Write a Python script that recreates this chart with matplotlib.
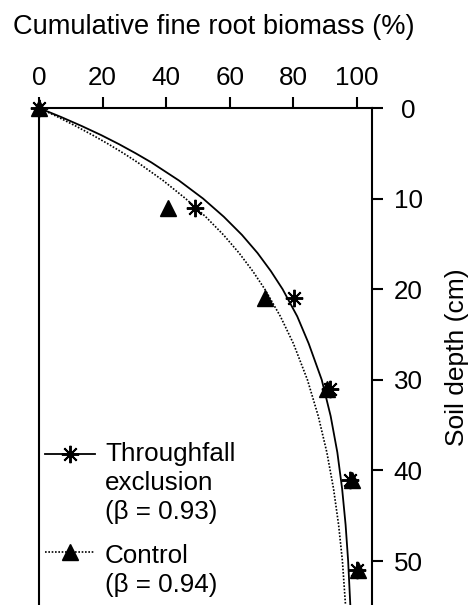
import matplotlib
matplotlib.use('Agg')
import matplotlib.pyplot as plt
from matplotlib.lines import Line2D

plt.rcParams['font.family'] = ['Liberation Sans', 'DejaVu Sans']

# Observed cumulative fine root biomass (%) by soil depth (cm)
depth_obs = [0, 11, 21, 31, 41, 51]
excl_obs = [0, 48.9, 80.2, 91.5, 97.8, 100.1]
ctrl_obs = [0, 40.7, 71.1, 90.5, 98.3, 100.2]

# Fitted curves
depth_fit = [0, 1, 2, 3, 4, 5, 6, 8, 10, 12, 14, 16, 18, 20, 23, 26, 30, 34, 38, 42, 46, 50, 55]
excl_fit = [0, 7.0, 13.5, 19.6, 25.2, 30.4, 35.3, 44.0, 51.6, 58.1, 63.8, 68.7, 72.9, 76.6,
            81.2, 84.8, 88.9, 91.7, 93.8, 95.3, 96.4, 97.2, 97.9]
ctrl_fit = [0, 6.0, 11.6, 16.9, 21.9, 26.6, 31.0, 39.0, 46.1, 52.4, 58.0, 62.9, 67.2, 71.0,
            75.9, 80.0, 84.4, 87.8, 90.5, 92.6, 94.2, 95.4, 96.4]

x_ticks = [0, 20, 40, 60, 80, 100]
y_ticks = [0, 10, 20, 30, 40, 50]

excl_label = ["Throughfall", "exclusion", "(β = 0.93)"]
ctrl_label = ["Control", "(β = 0.94)"]

FS = 18.7
W, H = 476, 605
STAR = (8, 2, 0)
fig = plt.figure(figsize=(W / 100, H / 100), dpi=100)
ax = fig.add_axes([39 / W, 0, 333 / W, 497 / H])
ax.set_xlim(0, 104.7)
ax.set_ylim(54.85, 0)

ax.xaxis.tick_top()
ax.yaxis.tick_right()
ax.set_xticks(x_ticks)
ax.set_yticks(y_ticks)
ax.spines['bottom'].set_visible(False)
for s in ['left', 'top', 'right']:
    ax.spines[s].set_linewidth(1.5)
ax.tick_params(axis='both', direction='out', length=8, width=1.5, labelsize=FS)
ax.tick_params(axis='x', pad=5)
ax.tick_params(axis='y', pad=18)
for lbl in ax.get_yticklabels():
    lbl.set_ha('center')

ax.plot(excl_fit, depth_fit, '-', color='k', lw=1.3, zorder=2)
ax.plot(ctrl_fit, depth_fit, color='k', lw=1.2, ls=(0, (1, 1)), zorder=2)
ax.plot(excl_obs, depth_obs, ls='none', marker=STAR, ms=12.5, mew=1.4,
        color='k', clip_on=False, zorder=5)
ax.plot(ctrl_obs, depth_obs, ls='none', marker='^', ms=12, color='k',
        clip_on=False, zorder=6)

# manual legend
def ax_xy(px, py):
    return (px - 39) / 333, 1 - (py - 108) / 497

x0, y1 = ax_xy(45, 454)
x1, _ = ax_xy(95, 454)
xm, _ = ax_xy(70, 454)
ax.add_line(Line2D([x0, x1], [y1, y1], transform=ax.transAxes, color='k', lw=1.3))
ax.add_line(Line2D([xm], [y1], transform=ax.transAxes, color='k', marker=STAR,
                   ms=12.5, mew=1.4, ls='none'))
_, y2 = ax_xy(45, 551.7)
ax.add_line(Line2D([x0, x1], [y2, y2], transform=ax.transAxes, color='k', lw=1.2,
                   ls=(0, (1, 1))))
ax.add_line(Line2D([xm], [y2], transform=ax.transAxes, color='k', marker='^',
                   ms=12, ls='none'))

for i, t in enumerate(excl_label):
    fig.text(105 / W, 1 - (461.5 + 29 * i) / H, t, fontsize=FS, va='baseline', ha='left')
for i, t in enumerate(ctrl_label):
    fig.text(105 / W, 1 - (562.7 + 29 * i) / H, t, fontsize=FS, va='baseline', ha='left')

fig.text(13 / W, 1 - 34.5 / H, 'Cumulative fine root biomass (%)', fontsize=19.6,
         va='baseline', ha='left')
fig.text(457 / W, 1 - 357 / H, 'Soil depth (cm)', fontsize=19, rotation=90,
         ha='center', va='center')

fig.savefig('out.png', dpi=100)
